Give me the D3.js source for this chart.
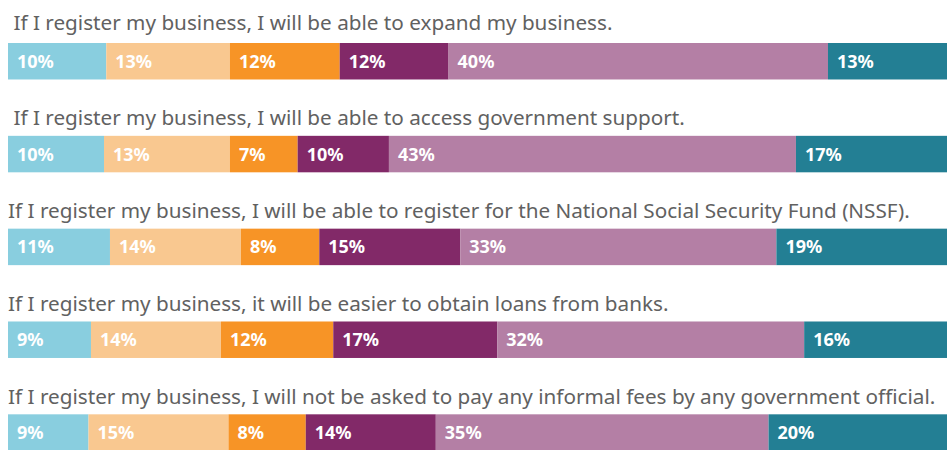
<!DOCTYPE html>
<html>
<head>
<meta charset="utf-8">
<script src="https://cdn.jsdelivr.net/npm/d3@7"></script>
<style>
  html, body { margin: 0; padding: 0; background: #fff; }
  svg { display: block; }
</style>
</head>
<body>
<svg id="chart" width="947" height="450"></svg>
<script>
// Survey statements (one stacked bar per statement)
const statements = [
  " If I register my business, I will be able to expand my business.",
  " If I register my business, I will be able to access government support.",
  "If I register my business, I will be able to register for the National Social Security Fund (NSSF).",
  "If I register my business, it will be easier to obtain loans from banks.",
  "If I register my business, I will not be asked to pay any informal fees by any government official."
];

// Response shares (%) per answer category, in statement order
const answer1 = [10.40, 10.16, 10.79, 8.78, 8.52];
const answer2 = [13.09, 13.33, 13.86, 13.76, 14.81];
const answer3 = [11.61, 7.16, 8.29, 11.88, 8.18];
const answer4 = [11.52, 9.66, 14.92, 17.35, 13.76];
const answer5 = [40.15, 43.07, 33.45, 32.48, 35.21];
const answer6 = [13, 17, 19, 16, 20];

const seriesValues = [answer1, answer2, answer3, answer4, answer5, answer6];
const seriesColors = ["#89CEDF", "#F9C890", "#F79426", "#822968", "#B47FA5", "#237F94"];

const svg = d3.select("#chart");

const x = d3.scaleLinear().domain([0, 100]).range([8, 953]);
const y = d3.scaleBand()
  .domain(statements)
  .range([43, 450.8])
  .paddingInner(0.607)
  .paddingOuter(0)
  .align(0);

const fmt = v => d3.format(".0f")(v) + "%";

// Build stacked segments
const rows = statements.map((s, i) => {
  let acc = 0;
  const segs = seriesValues.map((vals, k) => {
    const v = vals[i];
    const seg = { statement: s, k, x0: acc, x1: acc + v, value: v };
    acc += v;
    return seg;
  });
  return { statement: s, segs };
});

const row = svg.selectAll("g.row")
  .data(rows)
  .join("g")
  .attr("class", "row");

// Statement text above each bar
row.append("text")
  .attr("x", 8)
  .attr("y", (d, i) => y(d.statement) - (i === 0 ? 13 : 10.5))
  .attr("fill", "#616161")
  .style("font-family", "'Noto Sans', sans-serif")
  .style("font-size", "20.7px")
  .style("white-space", "pre")
  .text(d => d.statement);

// Bar segments
row.selectAll("rect")
  .data(d => d.segs)
  .join("rect")
  .attr("x", d => x(d.x0))
  .attr("y", d => y(d.statement))
  .attr("width", d => x(d.x1) - x(d.x0))
  .attr("height", y.bandwidth())
  .attr("fill", d => seriesColors[d.k]);

// Value labels inside segments
row.selectAll("text.val")
  .data(d => d.segs)
  .join("text")
  .attr("class", "val")
  .attr("x", d => x(d.x0) + 9)
  .attr("y", d => y(d.statement) + y.bandwidth() / 2 + 6.5)
  .attr("fill", "#fff")
  .style("font-family", "'Noto Sans', sans-serif")
  .style("font-weight", "bold")
  .style("font-size", "18px")
  .text(d => fmt(d.value));
</script>
</body>
</html>
